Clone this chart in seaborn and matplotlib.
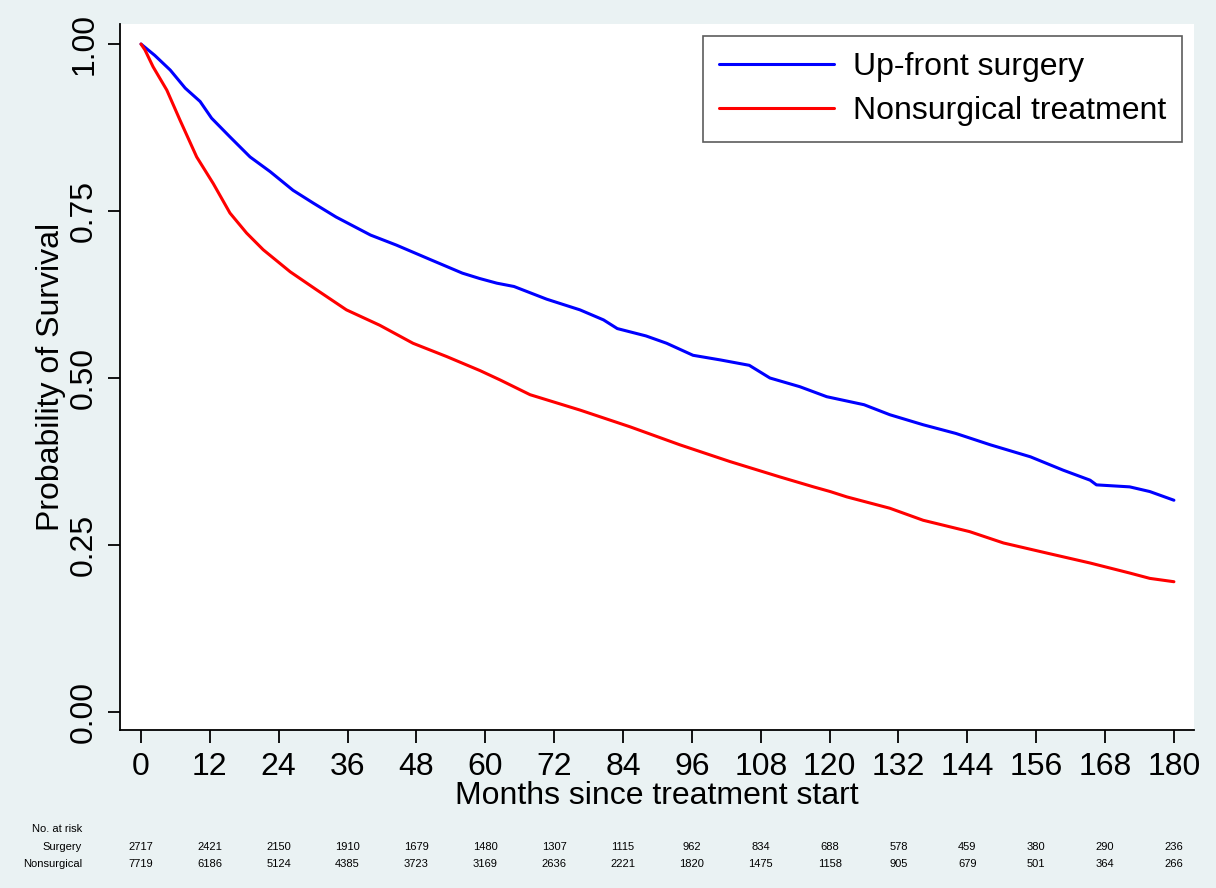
import numpy as np
import pandas as pd
import matplotlib
matplotlib.use("Agg")
import matplotlib.pyplot as plt
import matplotlib.transforms as mtransforms
import seaborn as sns

# Kaplan-Meier curves (months, survival)
surg_months = [0, 2.4, 5.1, 7.7, 10.3, 12.3, 15.5, 19.0, 22.5, 26.5, 30.0, 34.0, 40.0,
               44.5, 50.5, 56.0, 59.0, 62.0, 65.0, 70.7, 76.5, 80.6, 83.0, 88.0, 91.6,
               96.2, 101.0, 106.0, 109.6, 114.8, 119.5, 126.0, 130.5, 136.3, 142.0,
               148.0, 155.0, 160.7, 165.4, 166.5, 172.3, 175.8, 180.0]
surg_surv = [1.000, 0.983, 0.961, 0.934, 0.914, 0.889, 0.861, 0.831, 0.809, 0.781, 0.762,
             0.741, 0.714, 0.699, 0.677, 0.657, 0.649, 0.642, 0.637, 0.618, 0.602, 0.587,
             0.574, 0.563, 0.552, 0.534, 0.527, 0.519, 0.500, 0.487, 0.472, 0.460, 0.445,
             0.430, 0.417, 0.400, 0.382, 0.362, 0.347, 0.340, 0.337, 0.330, 0.317]

nonsurg_months = [0, 0.7, 2.1, 4.5, 6.8, 9.7, 12.6, 15.5, 18.4, 21.3, 26.0, 30.6, 35.8,
                  41.6, 47.4, 53.3, 59.1, 62.6, 67.8, 76.5, 85.2, 93.9, 102.6, 111.3,
                  117.2, 120.1, 123.0, 130.5, 136.3, 144.4, 150.3, 157.8, 165.4, 172.3,
                  175.8, 180.0]
nonsurg_surv = [1.000, 0.991, 0.966, 0.931, 0.886, 0.831, 0.791, 0.747, 0.717, 0.692,
                0.659, 0.632, 0.602, 0.579, 0.552, 0.532, 0.511, 0.497, 0.475, 0.452,
                0.427, 0.400, 0.375, 0.352, 0.337, 0.330, 0.322, 0.305, 0.287, 0.270,
                0.253, 0.238, 0.223, 0.208, 0.200, 0.195]

groups = ["Up-front surgery", "Nonsurgical treatment"]
colors = ["#0000ff", "#ff0000"]

x_ticks = list(range(0, 181, 12))
y_ticks = [0.0, 0.25, 0.5, 0.75, 1.0]
y_tick_labels = ["0.00", "0.25", "0.50", "0.75", "1.00"]

risk_rows = ["Surgery", "Nonsurgical"]
risk_surgery = [2717, 2421, 2150, 1910, 1679, 1480, 1307, 1115, 962, 834, 688, 578, 459, 380, 290, 236]
risk_nonsurg = [7719, 6186, 5124, 4385, 3723, 3169, 2636, 2221, 1820, 1475, 1158, 905, 679, 501, 364, 266]

df = pd.concat([
    pd.DataFrame({"months": surg_months, "surv": surg_surv, "group": groups[0]}),
    pd.DataFrame({"months": nonsurg_months, "surv": nonsurg_surv, "group": groups[1]}),
])

sns.set_style("ticks")
plt.rcParams["font.family"] = ["Liberation Sans", "DejaVu Sans"]
plt.rcParams["text.color"] = "black"
plt.rcParams["axes.labelcolor"] = "black"
plt.rcParams["xtick.color"] = "black"
plt.rcParams["ytick.color"] = "black"

bg = "#eaf2f3"
fig = plt.figure(figsize=(12.16, 8.88), dpi=100, facecolor=bg)
ax = fig.add_axes([120 / 1216, 1 - 730 / 888, 1074 / 1216, 706 / 888])
ax.set_facecolor("white")

sns.lineplot(data=df, x="months", y="surv", hue="group", hue_order=groups,
             palette=colors, estimator=None, sort=True, linewidth=2.2, ax=ax)

ax.set_xlim(-3.66, 183.5)
ax.set_ylim(-0.027, 1.03)
ax.set_xticks(x_ticks)
ax.set_yticks(y_ticks)
ax.set_yticklabels(y_tick_labels)
ax.tick_params(axis="both", labelsize=23, length=9, width=1.3, color="black", pad=7)
ax.tick_params(axis="y", labelrotation=90, pad=6)
for lab in ax.get_yticklabels():
    lab.set_va("center")

for side in ["top", "right"]:
    ax.spines[side].set_visible(False)
for side in ["left", "bottom"]:
    ax.spines[side].set_linewidth(1.3)
    ax.spines[side].set_color("black")

ax.set_xlabel("Months since treatment start", fontsize=23, labelpad=-1)
ax.set_ylabel("Probability of Survival", fontsize=23, labelpad=2)

leg = ax.legend(loc="upper right", bbox_to_anchor=(0.989, 0.983), borderaxespad=0,
                fontsize=23, frameon=True, fancybox=False, handlelength=3.6,
                handletextpad=0.6, borderpad=0.5, labelspacing=0.45)
leg.get_frame().set_edgecolor("#333333")
leg.get_frame().set_linewidth(1.2)
for h in leg.get_lines():
    h.set_linewidth(2.2)

# number at risk table
trans = mtransforms.blended_transform_factory(ax.transData, fig.transFigure)
row_y = [1 - 847 / 888, 1 - 864 / 888]
fig.text(82 / 1216, 1 - 829 / 888, "No. at risk", ha="right", va="center", fontsize=8)
for name, counts, yy in zip(risk_rows, [risk_surgery, risk_nonsurg], row_y):
    fig.text(82 / 1216, yy, name, ha="right", va="center", fontsize=8)
    for xt, n in zip(x_ticks, counts):
        ax.text(xt, yy, str(n), transform=trans, ha="center", va="center", fontsize=8)

fig.savefig("out.png", dpi=100, facecolor=bg)
